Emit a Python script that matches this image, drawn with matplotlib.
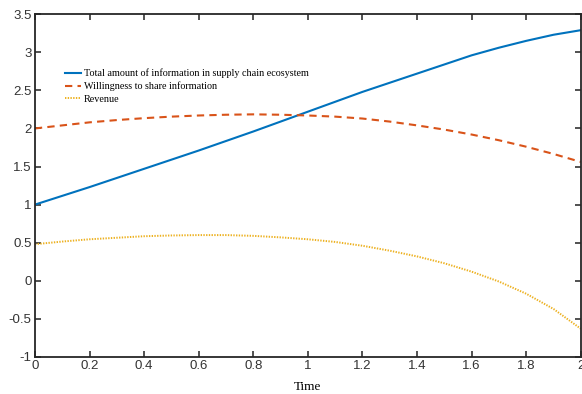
import matplotlib
matplotlib.use("Agg")
import matplotlib.pyplot as plt
import numpy as np

# values
time = [0.0, 0.1, 0.2, 0.3, 0.4, 0.5, 0.6, 0.7, 0.8, 0.9, 1.0,
        1.1, 1.2, 1.3, 1.4, 1.5, 1.6, 1.7, 1.8, 1.9, 2.0]
total_info = [1.00, 1.115, 1.23, 1.35, 1.47, 1.59, 1.71, 1.835, 1.96, 2.09, 2.22,
              2.35, 2.48, 2.60, 2.72, 2.84, 2.96, 3.06, 3.15, 3.23, 3.29]
willingness = [2.00, 2.04, 2.08, 2.11, 2.135, 2.155, 2.17, 2.18, 2.185, 2.18, 2.17,
               2.155, 2.13, 2.09, 2.04, 1.985, 1.92, 1.845, 1.76, 1.665, 1.56]
revenue = [0.48, 0.515, 0.545, 0.565, 0.585, 0.595, 0.60, 0.60, 0.59, 0.57, 0.545,
           0.51, 0.46, 0.395, 0.32, 0.23, 0.12, -0.01, -0.17, -0.37, -0.63]

labels = ["Total amount of information in supply chain ecosystem",
          "Willingness to share information",
          "Revenue"]
xticks = [0, 0.2, 0.4, 0.6, 0.8, 1, 1.2, 1.4, 1.6, 1.8, 2]
yticks = [-1, -0.5, 0, 0.5, 1, 1.5, 2, 2.5, 3, 3.5]

fig = plt.figure(figsize=(5.82, 3.94), dpi=100)
ax = fig.add_axes([0.060, 0.094, 0.938, 0.870])

ax.plot(time, total_info, color="#0072BD", lw=1.5, label=labels[0])
ax.plot(time, willingness, color="#D95319", lw=1.5, ls=(0, (3.5, 2.5)), label=labels[1])
ax.plot(time, revenue, color="#EDB120", lw=1.4, ls=(0, (0.7, 0.7)), label=labels[2])

ax.set_xlim(0, 2)
ax.set_ylim(-1, 3.5)
ax.set_xticks(xticks)
ax.set_yticks(yticks)
ax.set_xticklabels([f"{v:g}" for v in xticks], fontfamily="Liberation Sans")
ax.set_yticklabels([f"{v:g}" for v in yticks], fontfamily="Liberation Sans")
ax.tick_params(direction="in", top=True, right=True, length=4, width=1.2,
               labelsize=9.5, colors="#333333", pad=2.5)
for s in ax.spines.values():
    s.set_linewidth(1.3)
    s.set_color("#262626")

ax.set_xlabel("Time", fontfamily="Liberation Serif", fontsize=9.5, labelpad=6)

leg = ax.legend(loc="upper left", bbox_to_anchor=(0.047, 0.853), frameon=False,
                prop={"family": "Liberation Serif", "size": 7.3},
                handlelength=1.6, handletextpad=0.3, labelspacing=0.32,
                borderaxespad=0)

fig.savefig("out.png", dpi=100)
